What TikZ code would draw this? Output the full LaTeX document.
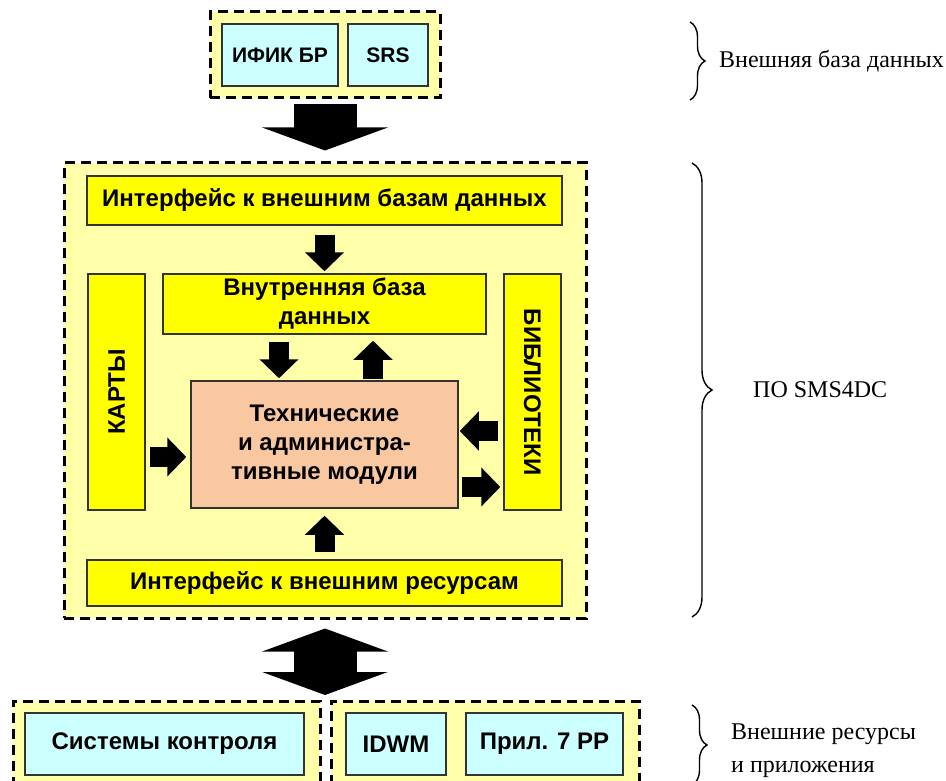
\documentclass[tikz,border=0pt]{standalone}
\usepackage{fontspec}
\setmainfont{Liberation Serif}
\newfontfamily\arialfont{Liberation Sans}
\usetikzlibrary{arrows.meta,decorations.pathreplacing,positioning}
\definecolor{paleyellow}{RGB}{255,255,170}
\definecolor{boxyellow}{RGB}{255,255,0}
\definecolor{paleblue}{RGB}{204,255,255}
\definecolor{modsalmon}{RGB}{250,200,160}
\begin{document}
\begin{tikzpicture}[x=1pt,y=-1pt,
    group/.style={draw,line width=3pt,dash pattern=on 10pt off 6pt,fill=paleyellow,inner sep=0pt},
    box/.style={draw=black!80,line width=1.5pt,fill=boxyellow,inner sep=0pt,align=center,
      font=\arialfont\bfseries\fontsize{24}{29}\selectfont},
    extbox/.style={box,fill=paleblue},
    blk/.style={line width=20pt,-{Triangle[length=19pt,width=38pt]}},
    bigblk/.style={line width=63pt,{Triangle[length=23pt,width=125pt]}-{Triangle[length=23pt,width=125pt]}},
    brc/.style={decorate,decoration={brace,amplitude=15pt},line width=1.4pt},
    lbl/.style={anchor=west,align=left,inner sep=0pt,font=\fontsize{24}{33}\selectfont}]
  \useasboundingbox[fill=white] (0,0) rectangle (946,781);
  \clip (0,0) rectangle (946,781);

  \node[group,minimum width=230pt,minimum height=86pt] (extdb) at (325,55) {};
  \node[extbox,minimum width=116pt,minimum height=62pt,font=\arialfont\bfseries\fontsize{21}{25}\selectfont] (ifik) at (280,55) {ИФИК БР};
  \node[extbox,minimum width=80pt,minimum height=62pt,font=\arialfont\bfseries\fontsize{21}{25}\selectfont] (srs) at (388,55) {SRS};

  \node[group,minimum width=522pt,minimum height=455pt] (sms) at (325,390.5) {};
  \node[box,minimum width=475pt,minimum height=49pt] (dbif) at (324.5,200.5) {Интерфейс к внешним базам данных};
  \node[box,minimum width=323pt,minimum height=60pt] (intdb) at (324.5,304) {Внутренняя база\\данных};
  \node[box,rotate=90,minimum width=236pt,minimum height=57pt] (maps) at (116.5,392) {КАРТЫ};
  \node[box,rotate=-90,minimum width=236pt,minimum height=57pt] (libs) at (532.5,392) {БИБЛИОТЕКИ};
  \node[box,fill=modsalmon,minimum width=267pt,minimum height=127pt] (mods) at (324.5,444.5) {Технические\\и администра-\\тивные модули};
  \node[box,minimum width=475pt,minimum height=46pt] (resif) at (324.5,583) {Интерфейс к внешним ресурсам};

  \node[group,minimum width=307pt,minimum height=110pt] (ctrlgrp) at (166.5,756) {};
  \node[extbox,minimum width=279pt,minimum height=62pt] (ctrl) at (164.5,744) {Системы контроля};
  \node[group,minimum width=308pt,minimum height=110pt] (appgrp) at (485,756) {};
  \node[extbox,minimum width=100pt,minimum height=62pt] (idwm) at (396,744) {IDWM};
  \node[extbox,minimum width=157pt,minimum height=62pt] (app7) at (544.5,744) {Прил. 7 РР};
  \coordinate (botgap) at (325,701);

  \path ([yshift=-12.5pt]mods.west) coordinate (mapsin)
        ([yshift=13.5pt]mods.east) coordinate (libsin)
        ([yshift=-42.5pt]mods.east) coordinate (libsout);

  \draw[bigblk,shorten <=9pt,shorten >=6pt] (sms.south) -- (botgap);
  \draw[line width=63pt,-{Triangle[length=23pt,width=125pt]},shorten <=5pt,shorten >=11pt] (extdb.south) -- (sms.north);
  \draw[blk,shorten <=9pt,shorten >=2pt] (dbif.south) -- (intdb.north);
  \draw[blk,shorten <=7pt,shorten >=2pt] ([xshift=-45.5pt]intdb.south) -- ([xshift=-45.5pt]mods.north);
  \draw[blk,shorten <=1pt,shorten >=6pt] ([xshift=48.5pt]mods.north) -- ([xshift=48.5pt]intdb.south);
  \draw[blk,shorten <=4pt,shorten >=4pt] (mapsin -| maps.south) -- (mapsin);
  \draw[blk,shorten <=5pt,shorten >=1pt] (libsin -| libs.south) -- (libsin);
  \draw[blk,shorten <=3pt,shorten >=3pt] (libsout) -- (libsout -| libs.south);
  \draw[blk,shorten <=7pt,shorten >=7pt] (resif.north) -- (mods.south);

  \coordinate (b1t) at (690,22);
  \coordinate (b1b) at (690,100);
  \coordinate (b2t) at (692,163);
  \coordinate (b2b) at (692,617);
  \coordinate (b3t) at (692,705);
  \coordinate (b3b) at (692,785);
  \draw[brc] (b1t) -- (b1b);
  \draw[brc,decoration={amplitude=20pt}] (b2t) -- (b2b);
  \draw[brc] (b3t) -- (b3b);
  \node[lbl] (extdblbl) at (719,61) {Внешняя база данных};
  \node[lbl] (smslbl) at (753,390) {ПО SMS4DC};
  \node[lbl] (reslbl) at (731,751) {Внешние ресурсы\\и приложения};
\end{tikzpicture}
\end{document}
